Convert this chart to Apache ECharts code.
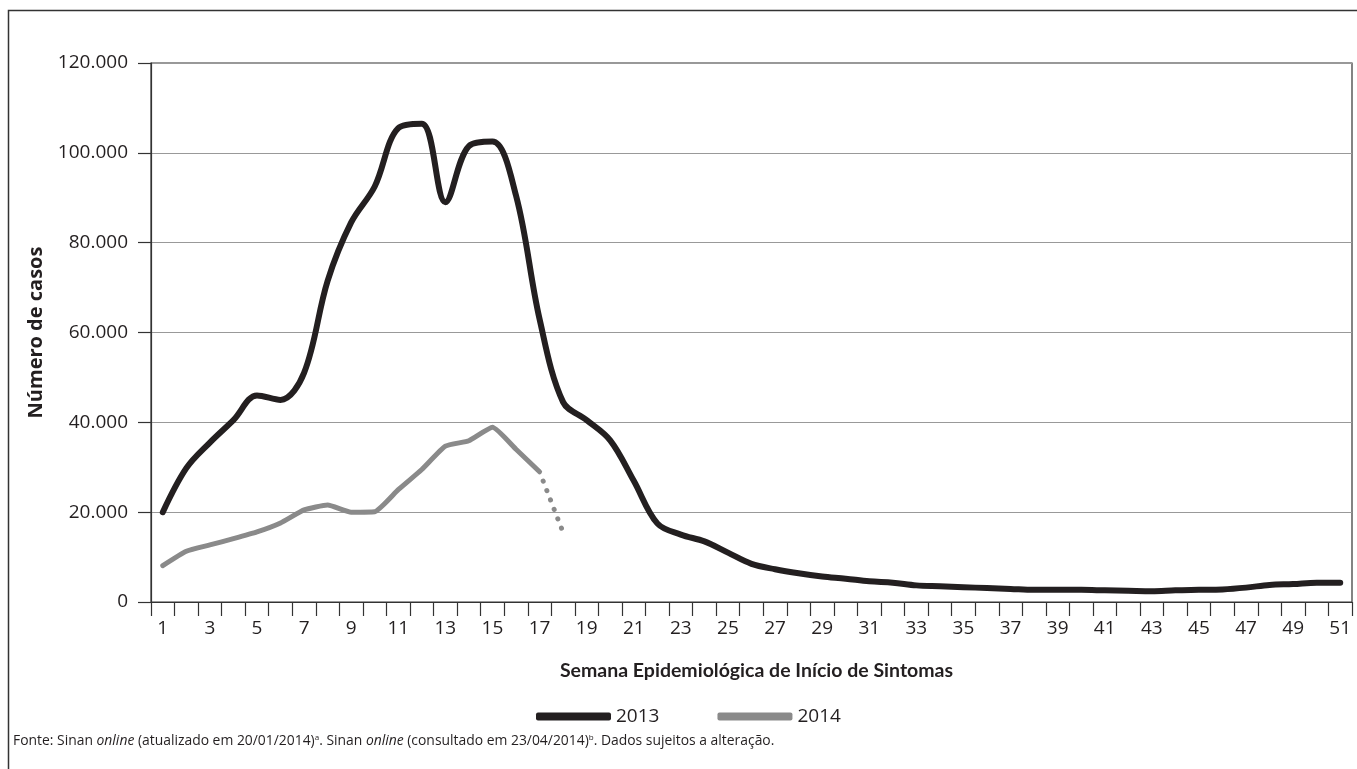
<!DOCTYPE html>
<html>
<head>
<meta charset="utf-8">
<script src="https://cdn.jsdelivr.net/npm/echarts@6/dist/echarts.min.js"></script>
<style>
html,body{margin:0;padding:0;background:#fff;}
#chart{width:1357px;height:769px;}
</style>
</head>
<body>
<div id="chart"></div>
<script>
var weeks = [];
for (var i = 1; i <= 51; i++) weeks.push(String(i));

var cases2013 = [20000, 29800, 35500, 40500, 46000, 45000, 51000, 71500, 84500, 92500,
  105500, 106500, 89000, 101500, 102500, 90500, 63000, 44500, 40500, 36000,
  27000, 17500, 15000, 13500, 11000, 8500, 7300, 6400, 5700, 5200,
  4600, 4300, 3700, 3500, 3300, 3100, 2900, 2700, 2700, 2700,
  2600, 2500, 2400, 2600, 2700, 2800, 3200, 3800, 4000, 4300, 4300];

var cases2014 = [8100, 11300, 12700, 14100, 15600, 17600, 20500, 21600, 20000, 20100,
  25000, 29500, 34700, 35900, 38900, 34000, 29000];

var cases2014Partial = [null, null, null, null, null, null, null, null, null, null,
  null, null, null, null, null, null, 29000, 15500];

var yTicks = { min: 0, max: 120000, interval: 20000 };

var chart = echarts.init(document.getElementById('chart'));
var font = 'Open Sans';
chart.setOption({
  animation: false,
  backgroundColor: '#fff',
  textStyle: { fontFamily: font },
  grid: {
    left: 151, right: 5, top: 63, bottom: 167,
    show: true, borderColor: '#333', borderWidth: 1.2, backgroundColor: 'transparent'
  },
  legend: {
    data: ['2013', '2014'],
    left: 531, top: 702,
    icon: 'roundRect',
    itemWidth: 75, itemHeight: 8, itemGap: 58,
    textStyle: { fontFamily: font, fontSize: 19, color: '#231f20' }
  },
  xAxis: {
    type: 'category',
    data: weeks,
    boundaryGap: true,
    name: 'Semana Epidemiológica de Início de Sintomas',
    nameLocation: 'middle',
    nameGap: 59,
    nameTextStyle: { fontFamily: 'Lato', fontSize: 19.5, fontWeight: 'bold', color: '#231f20', padding: [0, 0, 0, 10] },
    axisLine: { lineStyle: { color: '#333', width: 1.2 } },
    axisTick: { show: true, length: 14, interval: 0, alignWithLabel: false, lineStyle: { color: '#333', width: 1.2 } },
    axisLabel: { interval: 1, fontSize: 19, color: '#231f20', margin: 17, fontFamily: font },
    splitLine: { show: false }
  },
  yAxis: {
    type: 'value',
    min: yTicks.min, max: yTicks.max, interval: yTicks.interval,
    name: 'Número de casos',
    nameLocation: 'middle',
    nameGap: 105,
    nameTextStyle: { fontFamily: font, fontSize: 20, fontWeight: 'bold', color: '#231f20' },
    axisLine: { show: true, lineStyle: { color: '#333', width: 1.2 } },
    axisTick: { show: true, length: 13, lineStyle: { color: '#333', width: 1.2 } },
    axisLabel: {
      fontSize: 19, color: '#231f20', margin: 23, fontFamily: font,
      formatter: function (v) { return v === 0 ? '0' : v.toLocaleString('de-DE'); }
    },
    splitLine: { show: true, lineStyle: { color: '#999', width: 1.2 } }
  },
  series: [
    {
      name: '2013', type: 'line', data: cases2013, smooth: 0.35,
      showSymbol: false, symbol: 'none',
      itemStyle: { color: '#231f20' },
      lineStyle: { color: '#231f20', width: 6, cap: 'round', join: 'round' },
      z: 3
    },
    {
      name: '2014', type: 'line', data: cases2014, smooth: 0.15,
      showSymbol: false, symbol: 'none',
      itemStyle: { color: '#8a8a8a' },
      lineStyle: { color: '#8a8a8a', width: 5, cap: 'round', join: 'round' },
      z: 2
    },
    {
      name: '2014 parcial', type: 'line', data: cases2014Partial, smooth: false,
      showSymbol: false, symbol: 'none',
      lineStyle: { color: '#8a8a8a', width: 5, type: [0.1, 10], dashOffset: -10, cap: 'round' },
      z: 2
    }
  ],
  graphic: [
    {
      type: 'rect', silent: true,
      shape: { x: 8.5, y: 10.5, width: 1360, height: 770 },
      style: { fill: 'none', stroke: '#333', lineWidth: 1.5 }
    },
    {
      type: 'text', left: 13, top: 734, silent: true,
      style: {
        text: 'Fonte: Sinan {i|online} (atualizado em 20/01/2014){s|a}. Sinan {i|online} (consultado em 23/04/2014){s|b}. Dados sujeitos a alteração.',
        fontFamily: font, fontSize: 13.9, fill: '#231f20',
        rich: {
          i: { fontFamily: font, fontSize: 13.9, fontStyle: 'italic', fill: '#231f20' },
          s: { fontFamily: font, fontSize: 8, fill: '#231f20', verticalAlign: 'top', padding: [0, 0, 6, 0] }
        }
      }
    }
  ]
});
</script>
</body>
</html>
